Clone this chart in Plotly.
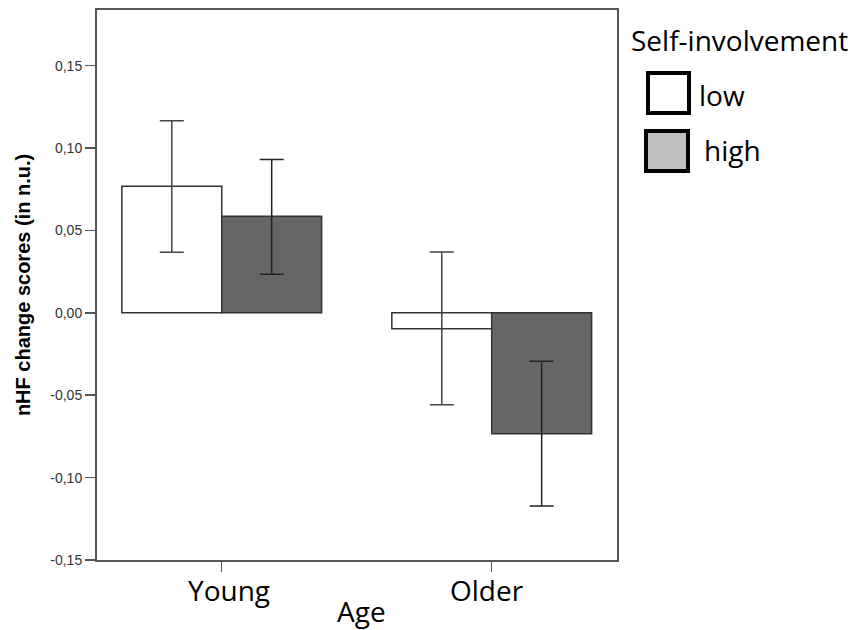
import plotly.graph_objects as go

# ---- data ----
age_groups = ["Young", "Older"]
low_means = [0.0768, -0.0097]
low_err_plus = [0.0398, 0.0466]
low_err_minus = [0.0400, 0.0461]
high_means = [0.0586, -0.0734]
high_err_plus = [0.0345, 0.0440]
high_err_minus = [0.0352, 0.0439]
series_names = ["low", "high"]
legend_title = "Self-involvement"
x_title = "Age"
y_title = "nHF change scores (in n.u.)"
y_ticks = [-0.15, -0.10, -0.05, 0.0, 0.05, 0.10, 0.15]
y_tick_labels = ["-0,15", "-0,10", "-0,05", "0,00", "0,05", "0,10", "0,15"]

W, H = 858, 630
L, R, T, B = 97, 617, 10, 560  # plot area in pixels


def px(x):
    return (x - L) / (R - L)


def py(y):
    return (B - y) / (B - T)


fig = go.Figure()
fig.add_trace(go.Bar(
    x=age_groups, y=low_means, name=series_names[0],
    marker=dict(color="white", line=dict(color="#333333", width=1.5)),
    error_y=dict(type="data", symmetric=False, array=low_err_plus,
                 arrayminus=low_err_minus, color="#444444", thickness=1.5, width=12),
    showlegend=False,
))
fig.add_trace(go.Bar(
    x=age_groups, y=high_means, name=series_names[1],
    marker=dict(color="#666666", line=dict(color="#333333", width=1.5)),
    error_y=dict(type="data", symmetric=False, array=high_err_plus,
                 arrayminus=high_err_minus, color="#222222", thickness=1.5, width=12),
    showlegend=False,
))

axis_col = "#555555"
fig.update_layout(
    width=W, height=H,
    margin=dict(l=L, r=W - R, t=T, b=H - B, pad=0, autoexpand=False),
    paper_bgcolor="white", plot_bgcolor="white",
    barmode="group", bargap=0.26, bargroupgap=0,
    showlegend=False,
    xaxis=dict(
        range=[-0.462, 1.464], automargin=False,
        showline=True, linecolor=axis_col, linewidth=2, mirror=True,
        ticks="outside", ticklen=10, tickcolor=axis_col, tickwidth=1.5,
        showgrid=False, zeroline=False, showticklabels=False,
    ),
    yaxis=dict(
        range=[-0.15, 0.1838], automargin=False,
        tickvals=y_ticks, ticktext=y_tick_labels,
        showline=True, linecolor=axis_col, linewidth=2, mirror=True,
        ticks="outside", ticklen=10, tickcolor=axis_col, tickwidth=1.5,
        showgrid=False, zeroline=False,
        tickfont=dict(family="Arial", size=14, color="#333333"),
        title=dict(text="<b>" + y_title + "</b>",
                   font=dict(family="Arial", size=20, color="black"), standoff=14),
    ),
)

# x category labels (slight offsets as in the reference)
label_shift = {"Young": 7, "Older": -5}
for cat in age_groups:
    fig.add_annotation(xref="x", yref="paper", x=cat, y=py(590),
                       xanchor="center", yanchor="middle", showarrow=False,
                       xshift=label_shift.get(cat, 0),
                       text=cat,
                       font=dict(family="Open Sans", size=28, color="black"))

# x-axis title (kept inside the page)
fig.add_annotation(xref="paper", yref="paper", x=px(361), y=py(632),
                   xanchor="center", yanchor="bottom", showarrow=False,
                   text=x_title,
                   font=dict(family="Open Sans", size=28, color="black"))

# ---- manual legend ----
fig.add_annotation(xref="paper", yref="paper", x=px(629), y=py(40),
                   xanchor="left", yanchor="middle", showarrow=False,
                   text=legend_title,
                   font=dict(family="Open Sans", size=28, color="black"))
fig.add_shape(type="rect", xref="paper", yref="paper",
              x0=px(648), x1=px(689), y0=py(113), y1=py(73),
              fillcolor="white", line=dict(color="black", width=4))
fig.add_shape(type="rect", xref="paper", yref="paper",
              x0=px(646), x1=px(688), y0=py(171), y1=py(131),
              fillcolor="#c0c0c0", line=dict(color="black", width=4))
fig.add_annotation(xref="paper", yref="paper", x=px(697), y=py(95),
                   xanchor="left", yanchor="middle", showarrow=False,
                   text=series_names[0],
                   font=dict(family="Open Sans", size=28, color="black"))
fig.add_annotation(xref="paper", yref="paper", x=px(702), y=py(150),
                   xanchor="left", yanchor="middle", showarrow=False,
                   text=series_names[1],
                   font=dict(family="Open Sans", size=28, color="black"))

fig.write_html("out.html",
               config={"displayModeBar": False, "staticPlot": True},
               post_script="document.body.style.margin='0';document.body.style.overflow='hidden';")
